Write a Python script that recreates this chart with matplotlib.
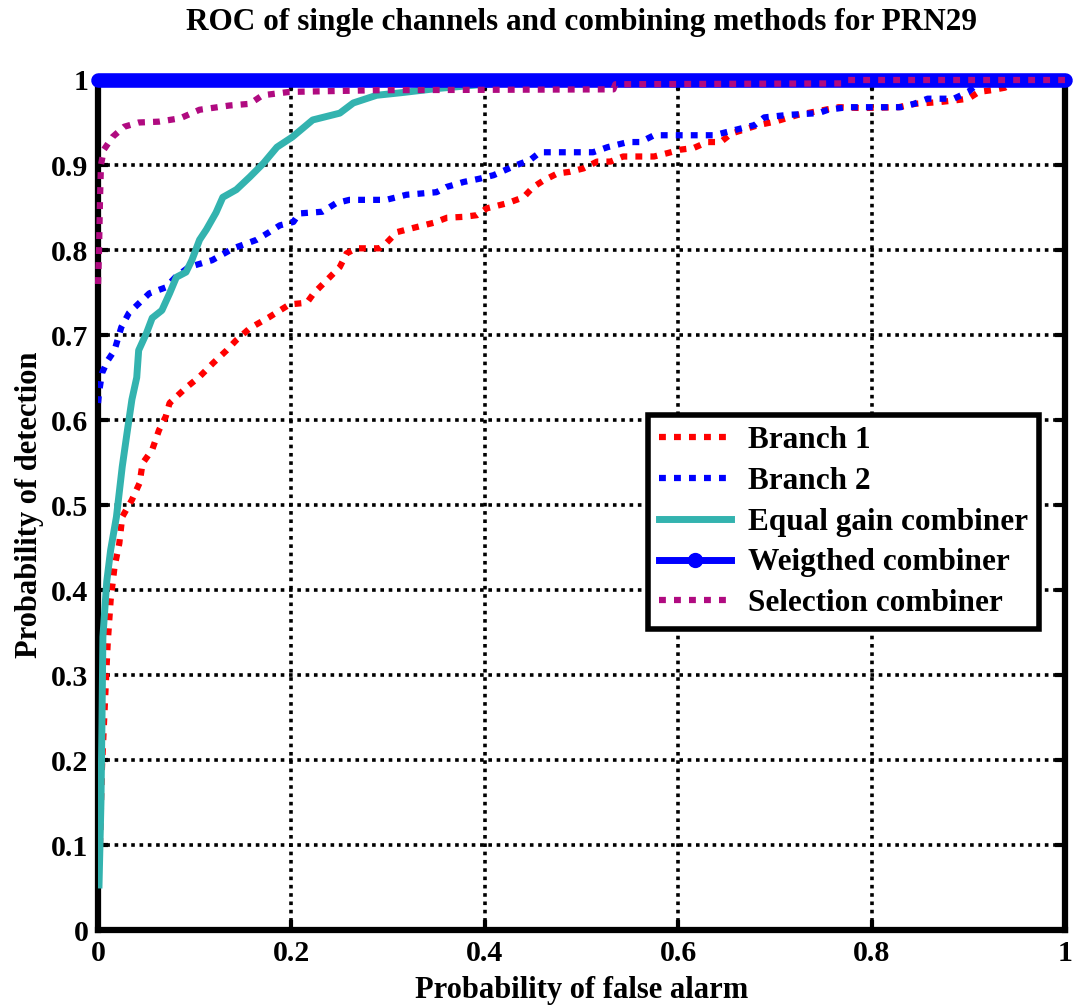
import matplotlib
matplotlib.use("Agg")
import matplotlib.pyplot as plt
from matplotlib.lines import Line2D

plt.rcParams['font.family'] = ['Liberation Serif', 'DejaVu Serif']
plt.rcParams['font.weight'] = 'bold'

# ROC curves: probability of false alarm (pf) vs probability of detection (pd)
branch1_pf = [0.002, 0.004, 0.008, 0.010, 0.013, 0.017, 0.022, 0.025, 0.035, 0.043,
              0.046, 0.056, 0.063, 0.070, 0.074, 0.091, 0.105, 0.119, 0.133, 0.143,
              0.157, 0.177, 0.198, 0.216, 0.223, 0.237, 0.250, 0.257, 0.267, 0.291,
              0.298, 0.309, 0.326, 0.347, 0.361, 0.378, 0.392, 0.402, 0.423, 0.440,
              0.450, 0.461, 0.475, 0.488, 0.502, 0.516, 0.530, 0.543, 0.575, 0.589,
              0.602, 0.616, 0.630, 0.644, 0.655, 0.683, 0.700, 0.724, 0.738, 0.766,
              0.790, 0.828, 0.845, 0.870, 0.886, 0.900, 0.911, 0.924, 0.938, 0.950, 1.0]
branch1_pd = [0.10, 0.19, 0.29, 0.338, 0.388, 0.427, 0.455, 0.486, 0.506, 0.526,
              0.549, 0.565, 0.588, 0.604, 0.620, 0.638, 0.651, 0.667, 0.682, 0.694,
              0.708, 0.721, 0.736, 0.738, 0.749, 0.765, 0.780, 0.796, 0.802, 0.802,
              0.808, 0.821, 0.826, 0.832, 0.838, 0.839, 0.841, 0.849, 0.855, 0.862,
              0.874, 0.882, 0.890, 0.892, 0.896, 0.904, 0.904, 0.910, 0.910, 0.914,
              0.918, 0.920, 0.927, 0.927, 0.937, 0.947, 0.951, 0.959, 0.962, 0.968,
              0.967, 0.968, 0.972, 0.974, 0.976, 0.978, 0.986, 0.988, 0.991, 1.0, 1.0]

branch2_pf = [0.0, 0.001, 0.004, 0.010, 0.017, 0.024, 0.032, 0.042, 0.053, 0.070,
              0.080, 0.094, 0.118, 0.140, 0.164, 0.177, 0.188, 0.202, 0.208, 0.232,
              0.246, 0.260, 0.298, 0.319, 0.350, 0.360, 0.378, 0.395, 0.409, 0.433,
              0.447, 0.457, 0.512, 0.527, 0.548, 0.561, 0.575, 0.637, 0.651, 0.665,
              0.679, 0.689, 0.714, 0.745, 0.755, 0.775, 0.830, 0.844, 0.858, 0.885,
              0.900, 0.906, 0.920, 1.0]
branch2_pd = [0.620, 0.632, 0.655, 0.670, 0.682, 0.709, 0.726, 0.737, 0.749, 0.756,
              0.768, 0.780, 0.788, 0.802, 0.812, 0.821, 0.829, 0.833, 0.843, 0.845,
              0.855, 0.859, 0.859, 0.865, 0.868, 0.874, 0.880, 0.884, 0.888, 0.900,
              0.906, 0.915, 0.915, 0.921, 0.927, 0.927, 0.935, 0.935, 0.939, 0.943,
              0.947, 0.956, 0.959, 0.961, 0.965, 0.968, 0.968, 0.972, 0.978, 0.978,
              0.986, 0.992, 1.0, 1.0]

egc_pf = [0.001, 0.003, 0.004, 0.005, 0.009, 0.013, 0.019, 0.025, 0.030, 0.035,
          0.040, 0.042, 0.050, 0.056, 0.066, 0.074, 0.081, 0.091, 0.097, 0.105,
          0.112, 0.122, 0.129, 0.143, 0.157, 0.171, 0.185, 0.201, 0.222, 0.250,
          0.264, 0.288, 0.313, 0.351, 0.400, 0.500, 1.0]
egc_pd = [0.053, 0.150, 0.240, 0.345, 0.410, 0.447, 0.486, 0.545, 0.585, 0.624,
          0.650, 0.682, 0.702, 0.720, 0.729, 0.749, 0.768, 0.774, 0.788, 0.812,
          0.824, 0.844, 0.862, 0.871, 0.886, 0.902, 0.921, 0.933, 0.953, 0.961,
          0.973, 0.982, 0.985, 0.990, 0.995, 1.0, 1.0]

weighted_pf = [0.0, 1.0]
weighted_pd = [1.0, 1.0]

selection_pf = [0.0, 0.001, 0.002, 0.003, 0.006, 0.015, 0.027, 0.042, 0.063, 0.085,
                0.105, 0.136, 0.157, 0.170, 0.198, 0.290, 0.533, 0.535, 0.770, 0.775, 1.0]
selection_pd = [0.76, 0.80, 0.86, 0.90, 0.918, 0.933, 0.945, 0.950, 0.951, 0.955,
                0.965, 0.970, 0.972, 0.982, 0.986, 0.988, 0.989, 0.995, 0.996, 1.0, 1.0]

labels = ["Branch 1", "Branch 2", "Equal gain combiner", "Weigthed combiner",
          "Selection combiner"]
yticks = [0, 0.1, 0.2, 0.3, 0.4, 0.5, 0.6, 0.7, 0.8, 0.9, 1]
ytick_labels = ["0", "0.1", "0.2", "0.3", "0.4", "0.5", "0.6", "0.7", "0.8", "0.9", "1"]
xticks = [0, 0.2, 0.4, 0.6, 0.8, 1]
xtick_labels = ["0", "0.2", "0.4", "0.6", "0.8", "1"]

RED = "#FF0000"
BLUE = "#0000FF"
TEAL = "#33B3AF"
PURPLE = "#B00A80"
DOT = (0, (1.1, 1.3))

fig = plt.figure(figsize=(10.74, 10.05), dpi=100)
ax = fig.add_axes([0.0913, 0.0746, 0.9003, 0.8458])

ax.plot(branch1_pf, branch1_pd, color=RED, lw=4.5, ls=DOT, dash_capstyle='butt', zorder=8)
ax.plot(branch2_pf, branch2_pd, color=BLUE, lw=4.5, ls=DOT, dash_capstyle='butt', zorder=8)
ax.plot(egc_pf, egc_pd, color=TEAL, lw=5.0, solid_joinstyle='round', zorder=9)
ax.plot(weighted_pf, weighted_pd, color=BLUE, lw=10.5, solid_capstyle='round',
        clip_on=False, zorder=10)
ax.plot(selection_pf, selection_pd, color=PURPLE, lw=4.5, ls=DOT, dash_capstyle='butt',
        clip_on=False, zorder=11)

ax.set_xlim(0, 1)
ax.set_ylim(0, 1)
ax.set_xticks(xticks)
ax.set_xticklabels(xtick_labels)
ax.set_yticks(yticks)
ax.set_yticklabels(ytick_labels)
ax.tick_params(direction='in', length=7, width=3, top=True, right=True,
               labelsize=21.5, pad=7)
for lab in ax.get_xticklabels() + ax.get_yticklabels():
    lab.set_fontweight('bold')

ax.grid(True, color='black', lw=2.6, ls=(0, (1, 1.3)))
ax.set_axisbelow(True)
for sp in ax.spines.values():
    sp.set_linewidth(4.5)
    sp.set_zorder(7)

ax.set_title("ROC of single channels and combining methods for PRN29",
             fontsize=22.5, fontweight='bold', pad=36)
ax.set_xlabel("Probability of false alarm", fontsize=22, fontweight='bold', labelpad=7)
ax.set_ylabel("Probability of detection", fontsize=22, fontweight='bold', labelpad=5)

handles = [
    Line2D([], [], color=RED, lw=4.5, ls=DOT, dash_capstyle='butt'),
    Line2D([], [], color=BLUE, lw=4.5, ls=DOT, dash_capstyle='butt'),
    Line2D([], [], color=TEAL, lw=5.0),
    Line2D([], [], color=BLUE, lw=5.0, marker='o', markersize=10),
    Line2D([], [], color=PURPLE, lw=4.5, ls=DOT, dash_capstyle='butt'),
]
leg = ax.legend(handles, labels, loc='upper left', bbox_to_anchor=(0.569, 0.606),
                prop={'family': ['Liberation Serif'], 'weight': 'bold', 'size': 22.5},
                frameon=True, fancybox=False, framealpha=1, edgecolor='black',
                handlelength=2.3, handletextpad=0.55, labelspacing=0.38,
                borderpad=0.35, borderaxespad=0)
leg.get_frame().set_linewidth(4)
leg.set_zorder(12)

fig.savefig("out.png", dpi=100, facecolor='white')
